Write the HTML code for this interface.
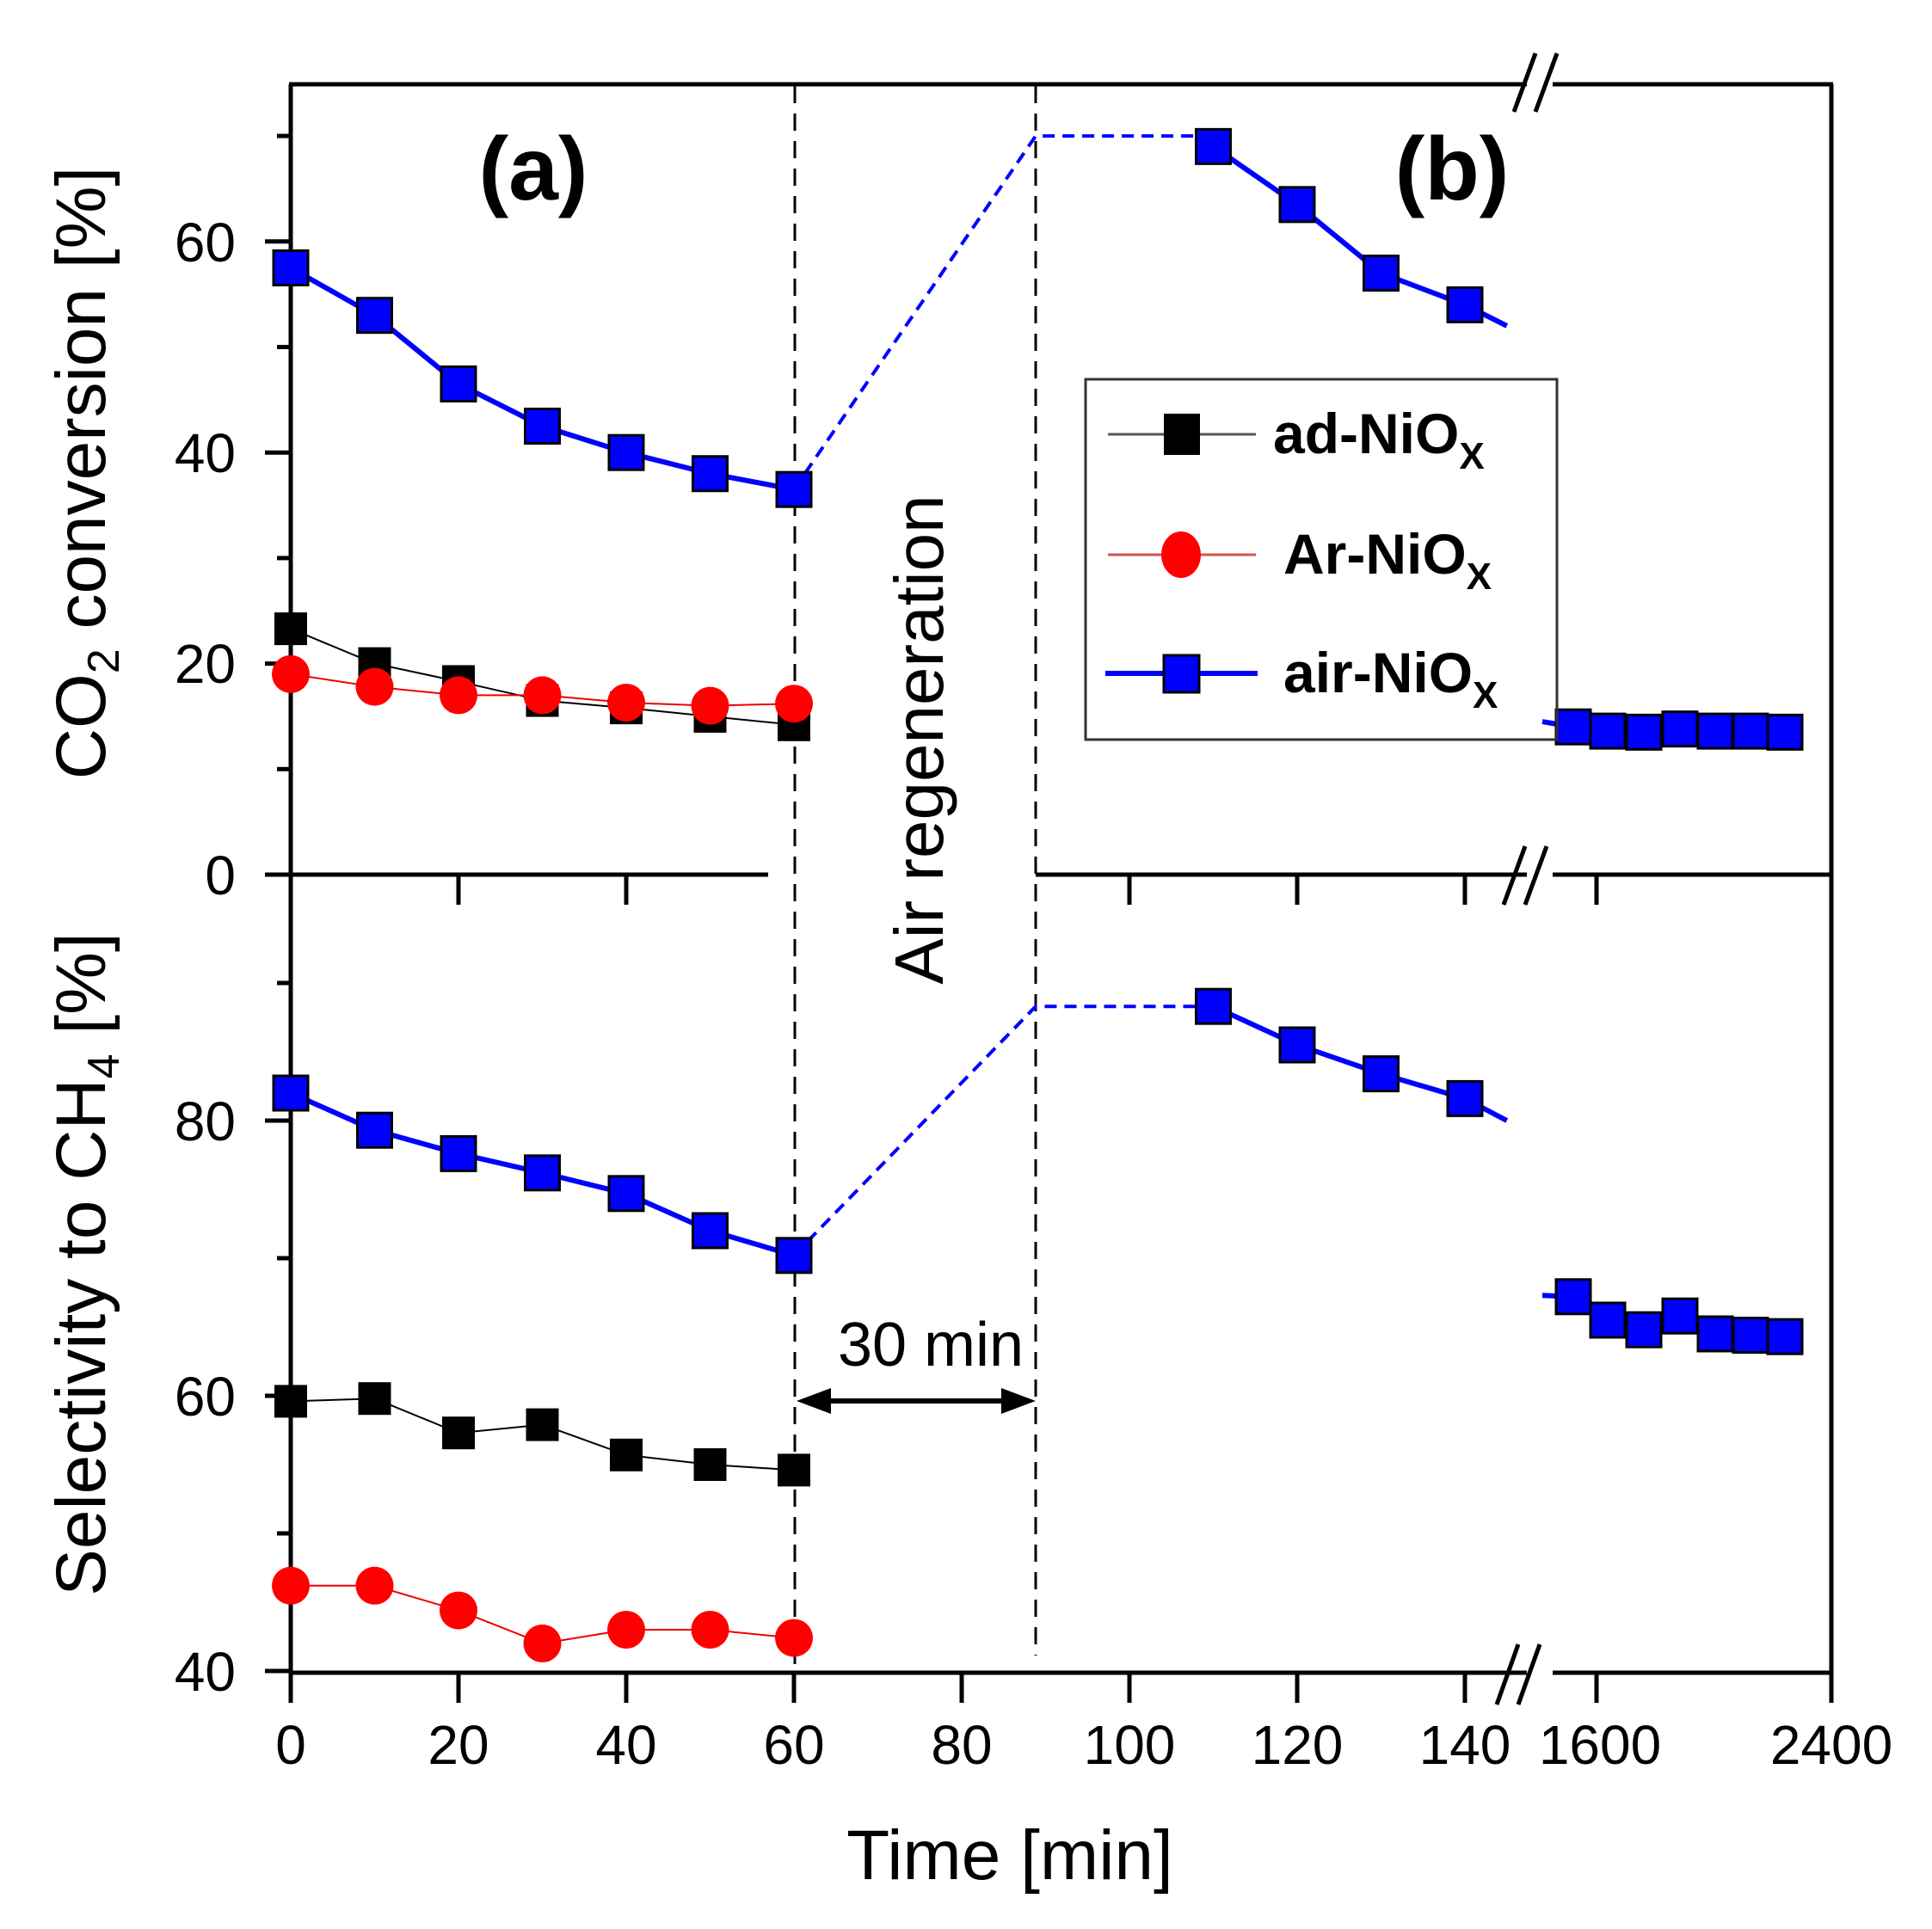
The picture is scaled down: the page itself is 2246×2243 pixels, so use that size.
<!DOCTYPE html>
<html><head><meta charset="utf-8"><style>
html,body{margin:0;padding:0;background:#fff;}
svg{display:block;font-family:"Liberation Sans",sans-serif;}
</style></head><body>
<svg id="s" width="2246" height="2243" viewBox="0 0 2246 2243" xmlns="http://www.w3.org/2000/svg">
<rect width="2246" height="2243" fill="#fff"/>
<g stroke="#000" stroke-width="5" fill="none">
<line x1="338" y1="98" x2="338" y2="1945"/>
<line x1="2129" y1="98" x2="2129" y2="1945"/>
<line x1="336" y1="98" x2="1775" y2="98"/>
<line x1="1805" y1="98" x2="2131" y2="98"/>
<line x1="338" y1="1017" x2="893" y2="1017"/>
<line x1="1204" y1="1017" x2="1775" y2="1017"/>
<line x1="1805" y1="1017" x2="2129" y2="1017"/>
<line x1="336" y1="1945" x2="1775" y2="1945"/>
<line x1="1805" y1="1945" x2="2131" y2="1945"/>
</g>
<g stroke="#000" stroke-width="5">
<line x1="1760" y1="130" x2="1785" y2="62"/><line x1="1785" y1="130" x2="1810" y2="62"/>
<line x1="1748" y1="1052" x2="1773" y2="984"/><line x1="1773" y1="1052" x2="1798" y2="984"/>
<line x1="1740" y1="1982" x2="1765" y2="1912"/><line x1="1765" y1="1982" x2="1790" y2="1912"/>
</g>
<g stroke="#000" stroke-width="3" stroke-dasharray="20,12">
<line x1="924" y1="100" x2="924" y2="1935"/>
<line x1="1204" y1="100" x2="1204" y2="1925"/>
</g>
<g id="ticks" stroke="#000" stroke-width="5"></g>
<g id="data"></g>
<g font-size="64" text-anchor="end" fill="#000">
<text x="274" y="1040">0</text><text x="274" y="794">20</text><text x="274" y="549">40</text><text x="274" y="304">60</text>
<text x="274" y="1966">40</text><text x="274" y="1646">60</text><text x="274" y="1326">80</text>
</g>
<g font-size="64" text-anchor="middle" fill="#000">
<text x="338" y="2051">0</text><text x="533" y="2051">20</text><text x="728" y="2051">40</text><text x="923" y="2051">60</text>
<text x="1118" y="2051">80</text><text x="1313" y="2051">100</text><text x="1508" y="2051">120</text><text x="1703" y="2051">140</text>
<text x="1860" y="2051">1600</text><text x="2129" y="2051">2400</text>
</g>
<text x="1174" y="2185" font-size="82" text-anchor="middle">Time [min]</text>
<text transform="translate(122,550) rotate(-90)" font-size="82" text-anchor="middle">CO<tspan font-size="52" dy="16">2</tspan><tspan dy="-16"> conversion [%]</tspan></text>
<text transform="translate(122,1470) rotate(-90)" font-size="82" text-anchor="middle">Selectivity to CH<tspan font-size="52" dy="16">4</tspan><tspan dy="-16"> [%]</tspan></text>
<text x="620" y="232" font-size="104" font-weight="bold" text-anchor="middle">(a)</text>
<text x="1688" y="232" font-size="104" font-weight="bold" text-anchor="middle">(b)</text>
<text transform="translate(1096,860) rotate(-90)" font-size="80" text-anchor="middle">Air regeneration</text>
<text x="1082" y="1588" font-size="72" text-anchor="middle">30 min</text>
<g stroke="#000" stroke-width="6"><line x1="950" y1="1629" x2="1180" y2="1629"/></g>
<polygon points="926,1629 966,1614 966,1644" fill="#000"/>
<polygon points="1204,1629 1164,1614 1164,1644" fill="#000"/>
<rect x="1262" y="441" width="548" height="419" fill="none" stroke="#333" stroke-width="3"/>
<line x1="1288" y1="505" x2="1460" y2="505" stroke="#555" stroke-width="3"/>
<rect x="1353" y="481" width="42" height="48" fill="#000"/>
<line x1="1288" y1="645" x2="1460" y2="645" stroke="#c55" stroke-width="3"/>
<ellipse cx="1373" cy="645" rx="23" ry="27" fill="#f00"/>
<line x1="1285" y1="783" x2="1462" y2="783" stroke="#00f" stroke-width="6"/>
<rect x="1353" y="762" width="41" height="43" fill="#00f" stroke="#000" stroke-width="3"/>
<g font-size="66" font-weight="bold">
<text x="1480" y="527">ad-NiO<tspan font-size="44" dy="18">X</tspan></text>
<text x="1492" y="667">Ar-NiO<tspan font-size="44" dy="18">X</tspan></text>
<text x="1492" y="805">air-NiO<tspan font-size="44" dy="18">X</tspan></text>
</g>
</svg>
<script>
var NS="http://www.w3.org/2000/svg";
function el(p,t,a){var e=document.createElementNS(NS,t);for(var k in a)e.setAttribute(k,a[k]);document.getElementById(p).appendChild(e);return e;}
function X(t){return 338+9.75*t;}
function YT(v){return 1017-12.27*v;}
function YB(v){return 1303-16*(v-80);}
[0,20,40,60].forEach(function(v){el("ticks","line",{x1:308,x2:338,y1:YT(v),y2:YT(v)});});
[10,30,50,70].forEach(function(v){el("ticks","line",{x1:322,x2:338,y1:YT(v),y2:YT(v)});});
[40,60,80].forEach(function(v){el("ticks","line",{x1:308,x2:338,y1:YB(v),y2:YB(v)});});
[50,70,90].forEach(function(v){el("ticks","line",{x1:322,x2:338,y1:YB(v),y2:YB(v)});});
[20,40,100,120,140].forEach(function(t){el("ticks","line",{x1:X(t),x2:X(t),y1:1017,y2:1052});});
[0,20,40,60,80,100,120,140].forEach(function(t){el("ticks","line",{x1:X(t),x2:X(t),y1:1945,y2:1980});});
[1856,2129].forEach(function(x){el("ticks","line",{x1:x,x2:x,y1:1945,y2:1980});el("ticks","line",{x1:x,x2:x,y1:1017,y2:1052});});
var T=[0,10,20,30,40,50,60];
var P2X=[1829,1869,1911,1953,1994,2035,2075];
function poly(pts,stroke,w,dash){var a={points:pts.map(function(p){return p[0]+","+p[1]}).join(" "),fill:"none",stroke:stroke,"stroke-width":w};if(dash)a["stroke-dasharray"]=dash;el("data","polyline",a);}
function sq(x,y,s,f,sw){el("data","rect",{x:x-s/2,y:y-s/2,width:s,height:s,fill:f,stroke:"#000","stroke-width":sw});}
function circ(x,y){el("data","circle",{cx:x,cy:y,r:22,fill:"#f00"});}
function series(Y,ad,ar,air,air2,air3,peak,endv,s2){
 poly(T.map(function(t,i){return [X(t),Y(ad[i])]}),"#000",2);
 poly(T.map(function(t,i){return [X(t),Y(ar[i])]}),"#e00",2);
 T.forEach(function(t,i){sq(X(t),Y(ad[i]),38,"#000",0);});
 T.forEach(function(t,i){circ(X(t),Y(ar[i]));});
 poly([[X(60),Y(air[6])],[1204,Y(peak)],[X(108),Y(peak)]],"#00f",4,"14,9");
 poly([[X(108),Y(peak)],[X(110),Y(air2[0])]],"#00f",6);
 poly(T.map(function(t,i){return [X(t),Y(air[i])]}),"#00f",6);
 var t2=[110,120,130,140];
 poly(t2.map(function(t,i){return [X(t),Y(air2[i])]}).concat([[X(145),Y(endv)]]),"#00f",6);
 poly([[1793,Y(s2)]].concat(P2X.map(function(x,i){return [x,Y(air3[i])]})),"#00f",6);
 T.forEach(function(t,i){sq(X(t),Y(air[i]),40,"#00f",3);});
 t2.forEach(function(t,i){sq(X(t),Y(air2[i]),40,"#00f",3);});
 P2X.forEach(function(x,i){sq(x,Y(air3[i]),40,"#00f",3);});
}
series(YT,[23.3,20,18.3,16.5,15.8,15,14.2],[19,17.8,17,17,16.3,16,16.2],[57.5,53,46.5,42.5,40,38,36.5],[69,63.5,57,54],[14,13.6,13.5,13.8,13.6,13.6,13.5],70,52,14.5);
series(YB,[59.6,59.8,57.3,57.9,55.7,55,54.6],[46.2,46.2,44.4,42,43,43,42.4],[82,79.3,77.6,76.2,74.7,72,70.2],[88.3,85.5,83.4,81.6],[67.2,65.5,64.8,65.8,64.5,64.4,64.3],88.3,80,67.3);
</script>
</body></html>
